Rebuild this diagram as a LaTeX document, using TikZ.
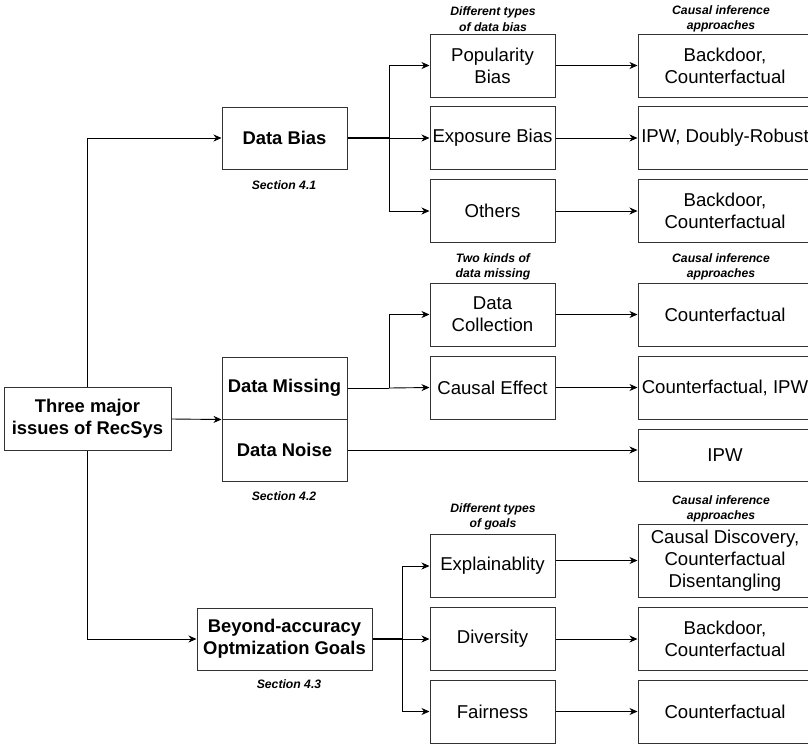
\documentclass[tikz,border=0pt]{standalone}
\usepackage{fontspec}
\setmainfont{Liberation Sans}
\usetikzlibrary{arrows.meta}
\tikzset{
  box/.style={draw=black!80, line width=1pt, minimum width=125pt, minimum height=63pt, inner sep=1pt, align=center, font=\fontsize{18.6}{22}\selectfont},
  bbox/.style={box, font=\fontsize{18.4}{22}\selectfont\bfseries},
  rbox/.style={box, minimum width=174pt},
  note/.style={align=center, font=\fontsize{12.2}{15.5}\selectfont\bfseries\itshape, inner sep=0pt},
  conn/.style={line width=0.9pt, -{Stealth[length=8pt,width=7pt,inset=2.5pt]}},
  plain/.style={line width=0.9pt},
  heavy/.style={line width=1.8pt}
}
\begin{document}
\begin{tikzpicture}[x=1pt,y=-1pt]
\useasboundingbox (0,0) rectangle (808,745);
\clip (0,0) rectangle (808,745);
% left and second column
\node[bbox, minimum width=167pt] (root) at (87.5,419) {Three major\\issues of RecSys};
\node[bbox, minimum height=62pt] (databias) at (284.5,138) {Data Bias};
\node[bbox, minimum height=62pt] (dm) at (284.5,388) {Data Missing};
\node[bbox, minimum height=62pt] (dn) at (284.5,450) {Data Noise};
\node[bbox, minimum width=175pt, minimum height=62pt] (beyond) at (284.5,639) {Beyond-accuracy\\Optmization Goals};
\node[note] (s1) at (284,185) {Section 4.1};
\node[note] (s2) at (284,496) {Section 4.2};
\node[note] (s3) at (289,684) {Section 4.3};
% middle column
\node[box] (pop) at (492.5,65.5) {Popularity\\Bias};
\node[box] (exb) at (492.5,138) {Exposure Bias};
\node[box] (oth) at (492.5,211) {Others};
\node[box] (dc) at (492.5,314.5) {Data\\Collection};
\node[box] (ce) at (492.5,387.5) {Causal Effect};
\node[box] (expl) at (492.5,566) {Explainablity};
\node[box] (div) at (492.5,639) {Diversity};
\node[box] (fair) at (492.5,711.5) {Fairness};
% right column
\node[rbox] (r1) at (725,65.5) {Backdoor,\\Counterfactual};
\node[rbox] (r2) at (725,138) {IPW, Doubly-Robust};
\node[rbox] (r3) at (725,211) {Backdoor,\\Counterfactual};
\node[rbox] (r4) at (725,314.5) {Counterfactual};
\node[rbox] (r5) at (725,387.5) {Counterfactual, IPW};
\node[rbox, minimum height=52pt] (r6) at (725,455) {IPW};
\node[rbox, minimum height=73pt] (r7) at (725,560.5) {Causal Discovery,\\Counterfactual\\Disentangling};
\node[rbox] (r8) at (725,639) {Backdoor,\\Counterfactual};
\node[rbox] (r9) at (725,711.5) {Counterfactual};
% headers
\node[note] (h1) at (493,19) {Different types\\of data bias};
\node[note] (h2) at (721,19) {Causal inference\\approaches};
\node[note] (h3) at (493,267) {Two kinds of\\data missing};
\node[note] (h4) at (721,267) {Causal inference\\approaches};
\node[note] (h5) at (493,517) {Different types\\of goals};
\node[note] (h6) at (721,509) {Causal inference\\approaches};
% branch points
\coordinate (b1) at (389,138);
\coordinate (b2) at (389,388);
\coordinate (b3) at (402,639);
% root connectors
\draw[conn] (root.north) |- (databias.west);
\draw[conn] (root.east) -- (dm.south west);
\draw[conn] (root.south) |- (beyond.west);
% data bias
\draw[heavy] (databias.east) -- (b1);
\draw[conn] (b1) -- (exb.west);
\draw[conn] (b1) |- (pop.west);
\draw[conn] (b1) |- (oth.west);
% data missing / noise
\draw[plain] (dm.east) -- (b2);
\draw[conn] (b2) -- (ce.west);
\draw[conn] (b2) |- (dc.west);
\draw[conn] (dn.east) -- (dn.east -| r6.west);
% beyond
\draw[heavy] (beyond.east) -- (b3);
\draw[conn] (b3) -- (div.west);
\draw[conn] (b3) |- (expl.west);
\draw[conn] (b3) |- (fair.west);
% middle to right
\draw[conn] (pop.east) -- (r1.west);
\draw[conn] (exb.east) -- (r2.west);
\draw[conn] (oth.east) -- (r3.west);
\draw[conn] (dc.east) -- (r4.west);
\draw[conn] (ce.east) -- (r5.west);
\draw[conn] (expl.east |- r7.west) -- (r7.west);
\draw[conn] (div.east) -- (r8.west);
\draw[conn] (fair.east) -- (r9.west);
\end{tikzpicture}
\end{document}
